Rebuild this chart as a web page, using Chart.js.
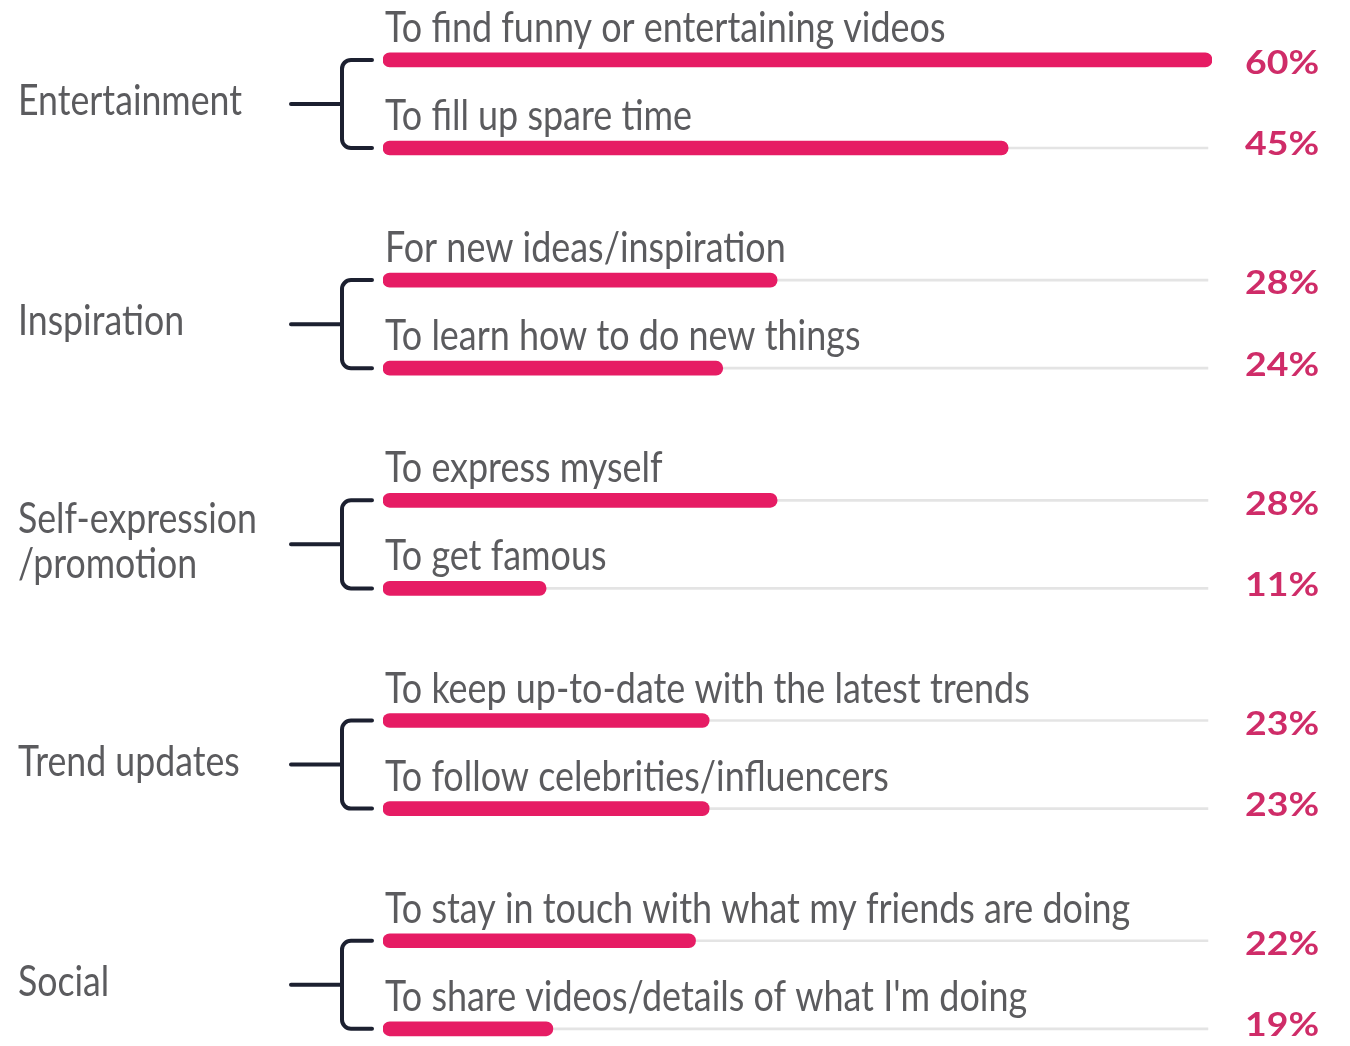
<!DOCTYPE html>
<html lang="en">
<head>
    <meta charset="UTF-8">
    <title>Reasons for using the app</title>
    <script src="https://cdn.jsdelivr.net/npm/chart.js"></script>
    <style>
        html, body { margin: 0; padding: 0; background: #ffffff; }
        #wrap { width: 1350px; height: 1046px; position: relative; }
    </style>
</head>
<body>
    <div id="wrap">
        <canvas id="reasonsChart" width="1350" height="1046"></canvas>
    </div>

    <script>
        // Chart data
        const groups = ['Entertainment', 'Inspiration', 'Self-expression\n/promotion', 'Trend updates', 'Social'];
        const reasons = [
            'To find funny or entertaining videos',
            'To fill up spare time',
            'For new ideas/inspiration',
            'To learn how to do new things',
            'To express myself',
            'To get famous',
            'To keep up-to-date with the latest trends',
            'To follow celebrities/influencers',
            'To stay in touch with what my friends are doing',
            "To share videos/details of what I'm doing"
        ];
        const reasonGroup = [0, 0, 1, 1, 2, 2, 3, 3, 4, 4];
        // bar lengths as drawn in the source (the last bar is drawn shorter than its 19% label)
        const values = [60, 45, 28, 24, 28, 11, 23, 23, 22, 11.5];
        const valueLabels = ['60%', '45%', '28%', '24%', '28%', '11%', '23%', '23%', '22%', '19%'];
        const AXIS_MIN = -1;
        const AXIS_MAX = 60;

        const PINK = '#e61c64';
        const VALUE_PINK = '#cf2c68';
        const GREY_TEXT = '#5b5b5e';
        const TRACK = '#e4e4e4';
        const BRACKET = '#1c2030';
        const FONT = 'Lato, "Open Sans", sans-serif';

        // row position: two rows per group, one and a half blank rows between groups
        const rowPos = reasons.map((r, i) => reasonGroup[i] * 5 + (i % 2) * 2);

        // draw text squeezed/stretched horizontally (the original face is narrow)
        function drawText(ctx, text, x, y, sx) {
            ctx.save();
            ctx.translate(x, y);
            ctx.scale(sx, 1);
            ctx.fillText(text, 0, 0);
            ctx.restore();
        }

        const labelsPlugin = {
            id: 'labelsPlugin',
            afterDatasetsDraw(chart) {
                const ctx = chart.ctx;
                const y = chart.scales.y;
                const x = chart.scales.x;
                ctx.save();
                ctx.textAlign = 'left';

                // bar captions and value labels
                reasons.forEach((r, i) => {
                    const py = y.getPixelForValue(rowPos[i]);
                    ctx.font = '42px ' + FONT;
                    ctx.fillStyle = GREY_TEXT;
                    ctx.textBaseline = 'alphabetic';
                    drawText(ctx, r, x.getPixelForValue(AXIS_MIN) + 2, py - 18, 0.855);

                    ctx.font = 'bold 32px ' + FONT;
                    ctx.fillStyle = VALUE_PINK;
                    ctx.textBaseline = 'middle';
                    drawText(ctx, valueLabels[i], 1245, py + (i % 2 ? -3 : 4), 1.17);
                });

                // group labels and brackets
                groups.forEach((g, gi) => {
                    const idx = reasonGroup.map((v, i) => v === gi ? i : -1).filter(i => i >= 0);
                    const top = y.getPixelForValue(rowPos[idx[0]]);
                    const bottom = y.getPixelForValue(rowPos[idx[idx.length - 1]]);
                    const mid = (top + bottom) / 2;

                    const lines = g.split('\n');
                    ctx.font = '42px ' + FONT;
                    ctx.fillStyle = GREY_TEXT;
                    ctx.textBaseline = 'alphabetic';
                    lines.forEach((ln, li) => {
                        drawText(ctx, ln, 18, mid + 11 + (li - (lines.length - 1) / 2) * 45, 0.85);
                    });

                    const vx = 342, r = 9, armEnd = 372;
                    ctx.strokeStyle = BRACKET;
                    ctx.lineWidth = 4;
                    ctx.lineCap = 'round';
                    ctx.beginPath();
                    ctx.moveTo(armEnd, top);
                    ctx.lineTo(vx + r, top);
                    ctx.arcTo(vx, top, vx, top + r, r);
                    ctx.lineTo(vx, bottom - r);
                    ctx.arcTo(vx, bottom, vx + r, bottom, r);
                    ctx.lineTo(armEnd, bottom);
                    ctx.moveTo(291, mid);
                    ctx.lineTo(vx, mid);
                    ctx.stroke();
                });

                ctx.restore();
            }
        };

        new Chart(document.getElementById('reasonsChart'), {
            type: 'bar',
            data: {
                datasets: [
                    {
                        data: values.map((v, i) => ({ x: v, y: rowPos[i] })),
                        backgroundColor: PINK,
                        base: AXIS_MIN,
                        barThickness: 14,
                        borderRadius: 7,
                        borderSkipped: false,
                        grouped: false,
                        order: 1
                    },
                    {
                        data: values.map((v, i) => ({ x: AXIS_MAX - 0.3, y: rowPos[i] })),
                        backgroundColor: TRACK,
                        base: AXIS_MIN,
                        barThickness: 2,
                        borderSkipped: false,
                        grouped: false,
                        order: 2
                    }
                ]
            },
            options: {
                indexAxis: 'y',
                responsive: false,
                animation: false,
                layout: { padding: { left: 383, right: 138, top: 0, bottom: 0 } },
                plugins: {
                    legend: { display: false },
                    tooltip: { enabled: false }
                },
                scales: {
                    x: { type: 'linear', min: AXIS_MIN, max: AXIS_MAX, display: false },
                    y: { type: 'linear', min: -1.36, max: 22.39, reverse: true, offset: false, display: false }
                }
            },
            plugins: [labelsPlugin]
        });
    </script>
</body>
</html>
